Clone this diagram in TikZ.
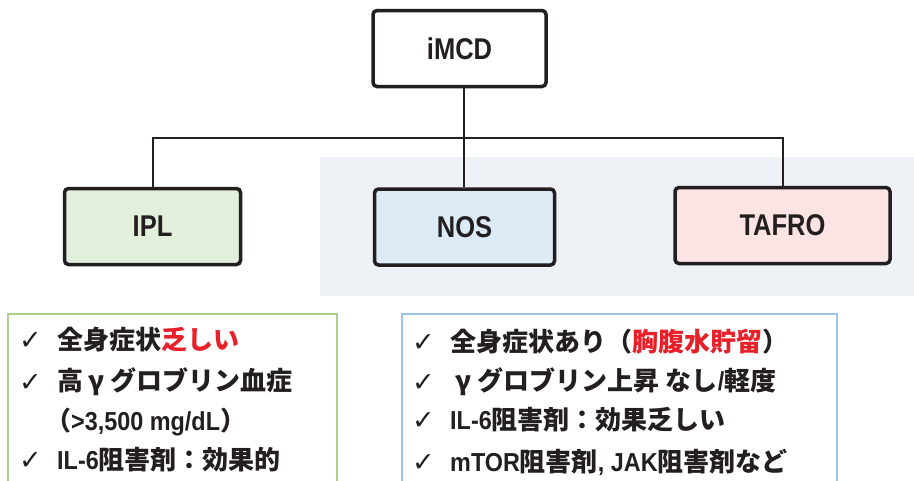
\documentclass[tikz,border=0pt]{standalone}
\usepackage{fontspec}
\usepackage{graphicx}
\setmainfont{Liberation Sans}
\newfontfamily\jp{Noto Sans CJK JP}
\newfontfamily\dv{DejaVu Sans}
\newcommand\J[1]{{\jp\bfseries #1}}
\newcommand\lat[1]{\scalebox{0.9}[1]{\bfseries #1}}
\newcommand\tit[1]{\scalebox{0.85}[1]{\bfseries #1}}
\newcommand\R[1]{\textcolor{redtxt}{#1}}
\newcommand\gam{\hspace{0.2em}γ\hspace{0.25em}}
\definecolor{ink}{HTML}{231F20}
\definecolor{iplc}{HTML}{E2EFDA}
\definecolor{nosc}{HTML}{DDEBF7}
\definecolor{tafc}{HTML}{FCE4E4}
\definecolor{bgc}{HTML}{EEF1F6}
\definecolor{gbord}{HTML}{A9D18E}
\definecolor{bbord}{HTML}{9DC3E6}
\definecolor{redtxt}{HTML}{E8202A}
\tikzset{
  catbox/.style={draw=ink, line width=3.5pt, rounded corners=4pt, minimum width=176pt, minimum height=76pt, inner sep=0pt, text=ink, font=\fontsize{30}{30}\selectfont},
  link/.style={draw=ink, line width=2pt},
  chk/.style={anchor=west, inner sep=0pt, text=ink, font=\dv\fontsize{27}{27}\selectfont},
  item/.style={anchor=west, inner sep=0pt, text=ink, font=\fontsize{26}{26}\selectfont},
  listbox/.style={line width=1.5pt, fill=white}
}
\begin{document}
\begin{tikzpicture}[x=1pt,y=-1pt]
\useasboundingbox (0,0) rectangle (914,480);
\clip (0,0) rectangle (914,480);
\fill[white] (0,0) rectangle (914,480);
\fill[bgc] (320,157) rectangle (914,296);

\node[catbox, fill=white, minimum width=173pt] (imcd) at (459.5,48.5) {\tit{iMCD}};
\node[catbox, fill=iplc] (ipl) at (152.5,226.5) {\tit{IPL}};
\node[catbox, fill=nosc, minimum width=180pt] (nos) at (464.5,227) {\tit{NOS}};
\node[catbox, fill=tafc, minimum width=215pt] (taf) at (782.5,225.5) {\tit{TAFRO}};

\coordinate (hub) at (464,138);
\draw[link] (imcd.south -| hub) -- (hub);
\draw[link] (ipl.north) |- (hub) -| (taf.north);
\draw[link] (hub) -- (nos.north -| hub);

\draw[listbox, draw=gbord] (8,314) rectangle (337,490);
\draw[listbox, draw=bbord] (402,314) rectangle (837,490);

\node[chk] (lc1) at (19,341) {✓};
\node[chk] (lc2) at (19,383) {✓};
\node[chk] (lc4) at (19,461) {✓};
\node[item] (l1) at (57,340) {\J{全身症状\R{乏しい}}};
\node[item] (l2) at (57,382) {\J{高\gam グロブリン血症}};
\node[item] (l3) at (45,422) {\J{（}\lat{>3,500 mg/dL}\J{）}};
\node[item] (l4) at (57,460) {\lat{IL-6}\J{阻害剤：効果的}};

\node[chk] (rc1) at (412,343) {✓};
\node[chk] (rc2) at (412,383) {✓};
\node[chk] (rc3) at (412,421) {✓};
\node[chk] (rc4) at (412,463) {✓};
\node[item] (r1) at (450,342) {\J{全身症状あり（\R{胸腹水貯留}）}};
\node[item] (r2) at (450,382) {\J{\gam グロブリン上昇 なし}\lat{/}\J{軽度}};
\node[item] (r3) at (450,420) {\lat{IL-6}\J{阻害剤：効果乏しい}};
\node[item] (r4) at (450,462) {\lat{mTOR}\J{阻害剤}\lat{, JAK}\J{阻害剤など}};
\end{tikzpicture}
\end{document}
